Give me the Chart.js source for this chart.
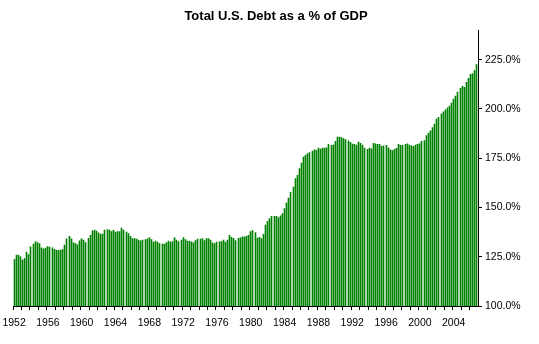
<!DOCTYPE html>
<html>
<head>
<meta charset="utf-8">
<script src="https://cdn.jsdelivr.net/npm/chart.js@4/dist/chart.umd.min.js"></script>
<style>
  html, body { margin: 0; padding: 0; background: #fff; }
  #wrap { width: 539px; height: 344px; }
</style>
</head>
<body>
<div id="wrap"><canvas id="myChart" width="539" height="344"></canvas></div>
<script>
// quarterly values (% of GDP)
var debt1950s = [ // 1952 Q1 - 1959 Q4
  123.6, 125.8, 125.8, 125.0,
  123.3, 124.1, 127.3, 126.1,
  130.0, 131.4, 132.7, 132.2,
  131.7, 129.5, 129.0, 129.4,
  130.2, 129.9, 129.5, 128.7,
  128.3, 128.3, 128.3, 128.7,
  130.9, 134.1, 135.4, 134.1,
  132.0, 131.7, 131.0, 133.1
];
var debt1960s = [
  134.1, 133.4, 132.2, 134.3,
  135.8, 138.2, 138.5, 138.0,
  137.1, 136.5, 136.5, 138.5,
  138.8, 138.5, 137.8, 138.5,
  137.5, 137.8, 137.8, 139.5,
  138.5, 137.5, 136.8, 135.4,
  134.2, 134.2, 133.9, 133.4,
  133.1, 133.4, 133.7, 134.1,
  134.7, 133.7, 132.4, 132.9,
  132.4, 131.7, 131.4, 131.4
];
var debt1970s = [
  132.2, 132.9, 132.4, 132.7,
  134.7, 133.4, 132.7, 133.4,
  134.7, 133.7, 132.9, 132.9,
  132.6, 132.0, 133.2, 133.9,
  133.9, 134.2, 133.2, 134.2,
  134.2, 133.4, 132.0, 131.7,
  132.4, 132.5, 132.7, 133.4,
  132.4, 133.5, 135.9, 134.9,
  134.4, 133.2, 134.4, 134.6,
  135.1, 135.1, 135.4, 135.9
];
var debt1980s = [
  137.8, 138.3, 137.3, 134.5,
  134.9, 134.2, 136.4, 141.0,
  143.0, 144.4, 145.5, 145.5,
  145.5, 144.9, 145.7, 146.9,
  149.4, 152.3, 154.8, 157.7,
  160.4, 164.6, 166.3, 169.7,
  172.5, 175.6, 176.4, 177.3,
  177.9, 178.6, 179.3, 179.0,
  180.1, 179.6, 180.1, 180.1,
  180.3, 182.0, 181.5, 181.8
];
var debt1990s = [
  183.5, 185.7, 185.7, 185.5,
  185.0, 184.5, 183.8, 183.0,
  182.2, 182.0, 181.6, 183.2,
  182.5, 181.6, 180.1, 179.5,
  180.1, 179.8, 182.5, 182.3,
  182.0, 182.0, 181.0, 181.3,
  181.5, 180.3, 179.3, 178.9,
  179.5, 180.0, 182.0, 181.5,
  181.5, 182.0, 182.3, 181.6,
  181.3, 181.0, 181.6, 182.0
];
var debt2000s = [ // 2000 Q1 - 2006 Q4
  182.3, 183.5, 184.0, 186.5,
  187.7, 188.9, 190.5, 192.3,
  194.8, 195.8, 197.5, 198.5,
  199.5, 200.5, 201.5, 203.0,
  205.0, 206.5, 208.5, 210.5,
  211.5, 211.0, 213.5, 215.5,
  217.5, 218.0, 219.5, 222.5
];

var firstYear = 1952;
var lastYear = 2006;
var tickYears = ['1952', '1956', '1960', '1964', '1968', '1972', '1976',
                 '1980', '1984', '1988', '1992', '1996', '2000', '2004'];
var yTicks = [100, 125, 150, 175, 200, 225];

var debt = [].concat(debt1950s, debt1960s, debt1970s, debt1980s, debt1990s, debt2000s);

var quarters = [];
for (var y = firstYear; y <= lastYear; y++) {
  for (var q = 1; q <= 4; q++) quarters.push(y + ' Q' + q);
}

Chart.defaults.font.family = '"Liberation Sans", Arial, sans-serif';
Chart.defaults.color = '#000';

// put each 1px bar on a whole pixel so it stays sharp
var snapBars = {
  id: 'snapBars',
  beforeDatasetsDraw: function(chart) {
    chart.getDatasetMeta(0).data.forEach(function(bar) {
      bar.x = Math.floor(bar.x) + 0.5;
    });
  }
};

var ctx = document.getElementById('myChart').getContext('2d');
var myChart = new Chart(ctx, {
  type: 'bar',
  data: {
    labels: quarters,
    datasets: [{
      label: 'Total U.S. Debt as a % of GDP',
      data: debt,
      backgroundColor: '#008000',
      borderWidth: 0,
      barThickness: 1
    }]
  },
  plugins: [snapBars],
  options: {
    responsive: false,
    animation: false,
    layout: { padding: { left: 13, right: 0, top: 0, bottom: 0 } },
    plugins: {
      legend: { display: false },
      tooltip: { enabled: false },
      title: {
        display: true,
        text: 'Total U.S. Debt as a % of GDP',
        font: { size: 13, weight: 'bold' },
        color: '#000',
        padding: { top: 9, bottom: 5.5 }
      }
    },
    scales: {
      x: {
        grid: {
          drawOnChartArea: false,
          tickLength: 4,
          color: function(c) { return c.index % 4 === 0 ? '#000' : 'rgba(0,0,0,0)'; }
        },
        border: { color: '#000', width: 1 },
        ticks: {
          autoSkip: false,
          maxRotation: 0,
          padding: 7,
          font: { size: 10.5 },
          callback: function(val, i) {
            var yr = quarters[i].slice(0, 4);
            return (quarters[i].slice(-2) === 'Q1' && tickYears.indexOf(yr) >= 0) ? yr : '';
          }
        },
        afterFit: function(scale) {
          scale.height = 38;
          scale.paddingLeft = 0;
          scale.paddingRight = 0;
        }
      },
      y: {
        position: 'right',
        min: 100,
        max: 240,
        grid: { drawOnChartArea: false, tickLength: 4, color: '#000' },
        border: { color: '#000', width: 1 },
        ticks: {
          stepSize: 25,
          padding: 3,
          font: { size: 10.5 },
          callback: function(v) { return v.toFixed(1) + '%'; }
        },
        afterBuildTicks: function(scale) {
          scale.ticks = scale.ticks.filter(function(t) { return yTicks.indexOf(t.value) >= 0; });
        },
        afterFit: function(scale) { scale.width = 61; }
      }
    }
  }
});
</script>
</body>
</html>
